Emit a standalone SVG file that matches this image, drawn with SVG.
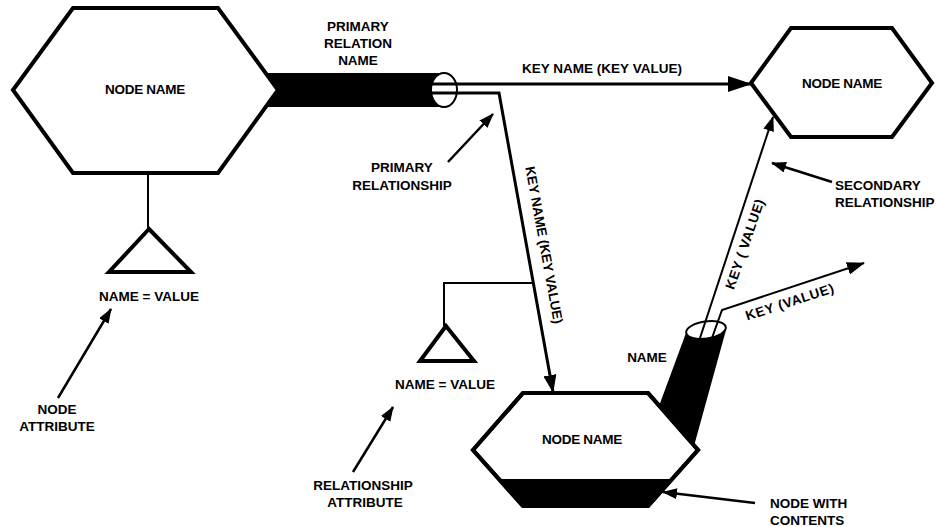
<svg xmlns="http://www.w3.org/2000/svg" width="936" height="527" viewBox="0 0 936 527">
  <style>
    .hex { fill: #fff; stroke: #000; stroke-width: 4; stroke-linejoin: miter; }
    .lbl { font-family: "Liberation Sans", Arial, sans-serif; font-weight: bold; font-size: 13.5px; fill: #000; text-anchor: middle; }
    .left { text-anchor: start; }
    .rel { fill: none; stroke: #000; stroke-width: 3; }
    .thin { fill: none; stroke: #000; stroke-width: 2; }
    .note { fill: none; stroke: #000; stroke-width: 2.5; }
    .attr { fill: #fff; stroke: #000; stroke-width: 4; stroke-linejoin: miter; }
  </style>
  <defs>
    <marker id="headBig" markerUnits="userSpaceOnUse" viewBox="0 0 24 16" refX="23" refY="8" markerWidth="24" markerHeight="16" orient="auto">
      <path d="M0,0 L24,8 L0,16 z" fill="#000"/>
    </marker>
    <marker id="headMid" markerUnits="userSpaceOnUse" viewBox="0 0 18 13" refX="17" refY="6.5" markerWidth="18" markerHeight="13" orient="auto">
      <path d="M0,0 L18,6.5 L0,13 z" fill="#000"/>
    </marker>
    <marker id="headSmall" markerUnits="userSpaceOnUse" viewBox="0 0 15 11" refX="14" refY="5.5" markerWidth="15" markerHeight="11" orient="auto">
      <path d="M0,0 L15,5.5 L0,11 z" fill="#000"/>
    </marker>
  </defs>

  <!-- primary relation: solid cylinder leaving the first node -->
  <g id="primary-relation">
    <rect x="250" y="73" width="194" height="34" fill="#000"/>
  </g>

  <!-- nodes -->
  <g id="node-main">
    <polygon class="hex" points="13,90 73,8 218,8 278,90 218,173 73,173"/>
    <text class="lbl" x="145" y="94" letter-spacing="-0.3">NODE NAME</text>
  </g>

  <g id="node-secondary">
    <polygon class="hex" points="751,83 791,28 892,28 932,83 892,137 791,137"/>
    <text class="lbl" x="842" y="88" letter-spacing="-0.3">NODE NAME</text>
  </g>

  <g id="node-contents">
    <polygon class="hex" points="473,450 523,393 648,393 698,450 648,506 523,506"/>
    <polygon points="499,479 672,479 648,506 523,506" fill="#000"/>
    <polygon class="hex" points="473,450 523,393 648,393 698,450 648,506 523,506" style="fill:none"/>
    <text class="lbl" x="582" y="444" letter-spacing="-0.3">NODE NAME</text>
  </g>

  <!-- named relation cylinder on the contents node -->
  <g id="contents-relation">
    <polygon points="686,333 726,330 694,446 659,406" fill="#000"/>
    <ellipse cx="706" cy="330" rx="20" ry="8.5" transform="rotate(-8 706 330)" fill="#fff" stroke="#000" stroke-width="2"/>
    <text class="lbl" x="647" y="362">NAME</text>
  </g>

  <!-- attributes -->
  <g id="attr-node">
    <line class="thin" x1="148" y1="173" x2="148" y2="229"/>
    <polygon class="attr" points="149,229 109,272 191,272"/>
    <text class="lbl" x="149" y="301">NAME = VALUE</text>
  </g>

  <g id="attr-relation">
    <polyline class="thin" stroke-width="1.6" points="533,283 444,283 444,326"/>
    <polygon class="attr" points="446,326 420,361 474,361"/>
    <text class="lbl" x="445" y="389">NAME = VALUE</text>
  </g>

  <!-- connectors -->
  <g id="connectors">
    <ellipse cx="444" cy="90" rx="13" ry="17" fill="#fff" stroke="#000" stroke-width="2"/>
    <line class="rel" x1="432" y1="84" x2="751" y2="84" marker-end="url(#headBig)"/>
    <polyline class="rel" points="432,93 499,93 553,392" marker-end="url(#headMid)"/>
    <line class="thin" x1="700" y1="338" x2="773" y2="117" marker-end="url(#headSmall)"/>
    <polyline class="thin" points="712,338 722,310 864,263" marker-end="url(#headMid)"/>
  </g>

  <!-- connector labels -->
  <g id="connector-labels">
    <text class="lbl" x="358" y="31">PRIMARY</text>
    <text class="lbl" x="358" y="48">RELATION</text>
    <text class="lbl" x="358" y="65">NAME</text>
    <text class="lbl" x="602" y="73">KEY NAME (KEY VALUE)</text>
    <text class="lbl" transform="translate(544,245) rotate(79.7)" x="0" y="4.5">KEY NAME (KEY VALUE)</text>
    <text class="lbl" transform="translate(745,244) rotate(-71)" x="0" y="4.5" letter-spacing="0.5">KEY ( VALUE)</text>
    <text class="lbl" transform="translate(790,302) rotate(-18)" x="0" y="4.5" letter-spacing="0.7">KEY (VALUE)</text>
  </g>

  <!-- annotations -->
  <g id="annotations">
    <line class="note" x1="58" y1="398" x2="111" y2="309" marker-end="url(#headSmall)"/>
    <text class="lbl" x="57" y="414">NODE</text>
    <text class="lbl" x="57" y="431">ATTRIBUTE</text>

    <line class="note" x1="448" y1="162" x2="493" y2="114" marker-end="url(#headSmall)"/>
    <text class="lbl" x="402" y="172">PRIMARY</text>
    <text class="lbl" x="402" y="190">RELATIONSHIP</text>

    <line class="note" x1="832" y1="182" x2="772" y2="163" marker-end="url(#headSmall)"/>
    <text class="lbl left" x="835" y="190">SECONDARY</text>
    <text class="lbl left" x="835" y="207">RELATIONSHIP</text>

    <line class="note" x1="353" y1="472" x2="393" y2="407" marker-end="url(#headSmall)"/>
    <text class="lbl" x="363" y="490">RELATIONSHIP</text>
    <text class="lbl" x="365" y="507">ATTRIBUTE</text>

    <line class="note" x1="755" y1="503" x2="663" y2="492" marker-end="url(#headSmall)"/>
    <text class="lbl left" x="770" y="508">NODE WITH</text>
    <text class="lbl left" x="770" y="525">CONTENTS</text>
  </g>
</svg>
